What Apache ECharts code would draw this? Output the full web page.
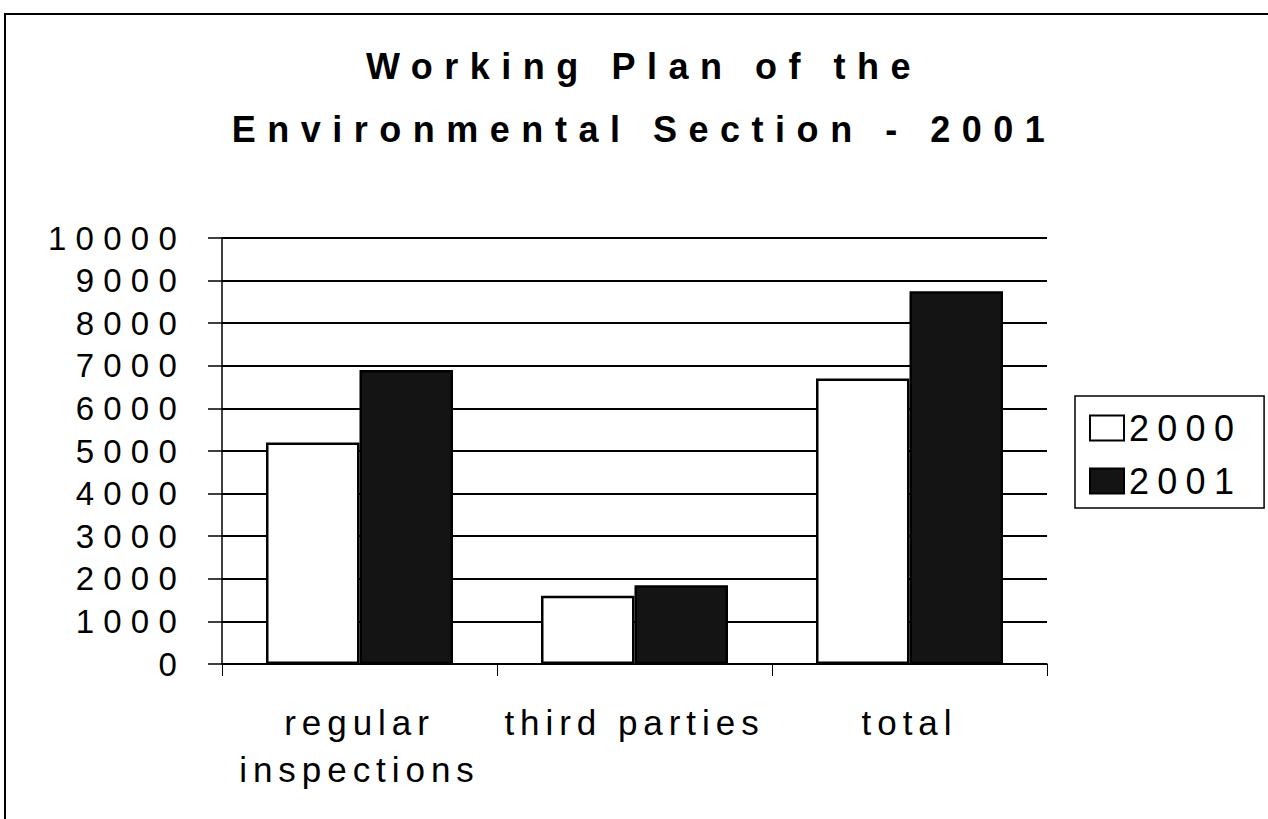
<!DOCTYPE html>
<html lang="en">
<head>
  <meta charset="UTF-8">
  <title>Working Plan of the Environmental Section - 2001</title>
  <script src="https://cdn.jsdelivr.net/npm/echarts@6/dist/echarts.min.js"></script>
  <style>
    html, body { margin: 0; padding: 0; background: #fff; }
    #chart { width: 1268px; height: 819px; }
  </style>
</head>
<body>
  <div id="chart"></div>
  <script>
    // data
    const categories = ['regular\ninspections', 'third parties', 'total'];
    const seriesNames = ['2000', '2001'];
    const values2000 = [5200, 1600, 6700];
    const values2001 = [6900, 1850, 8750];

    const font = '"Liberation Sans", Arial, sans-serif';
    const chart = echarts.init(document.getElementById('chart'), null, { renderer: 'svg' });

    const option = {
      backgroundColor: '#fff',
      animation: false,
      title: {
        text: 'Working Plan of the\nEnvironmental Section - 2001',
        left: 644,
        textAlign: 'center',
        top: 35,
        padding: 0,
        textStyle: {
          fontFamily: font,
          fontWeight: 'bold',
          fontSize: 36,
          lineHeight: 63,
          color: '#000'
        }
      },
      legend: {
        data: seriesNames,
        orient: 'vertical',
        left: 1075,
        top: 396,
        icon: 'rect',
        itemWidth: 34,
        itemHeight: 25,
        itemGap: 17,
        padding: [14, 55, 9, 14],
        borderColor: '#000',
        borderWidth: 1.5,
        textStyle: { fontFamily: font, fontSize: 36, color: '#000' }
      },
      grid: { left: 222, right: 221, top: 238, bottom: 155, outerBoundsMode: 'none' },
      xAxis: {
        type: 'category',
        data: categories,
        axisLine: { lineStyle: { color: '#000', width: 1.5 } },
        axisTick: { show: true, length: 12, lineStyle: { color: '#000', width: 1 } },
        axisLabel: {
          fontFamily: font,
          fontSize: 35,
          color: '#000',
          margin: 35,
          lineHeight: 47
        }
      },
      yAxis: {
        type: 'value',
        min: 0,
        max: 10000,
        interval: 1000,
        axisLine: { show: true, lineStyle: { color: '#000', width: 1.5 } },
        axisTick: { show: true, length: 14, lineStyle: { color: '#000', width: 1.5 } },
        splitLine: { lineStyle: { color: '#000', width: 2 } },
        axisLabel: {
          fontFamily: font,
          fontSize: 33,
          color: '#000',
          margin: 36,
          formatter: function (value) {
            return String(value);
          }
        }
      },
      series: [
        {
          name: '2000',
          type: 'bar',
          data: values2000,
          barGap: '0%',
          barCategoryGap: '32%',
          itemStyle: { color: '#fff', borderColor: '#000', borderWidth: 2.5 }
        },
        {
          name: '2001',
          type: 'bar',
          data: values2001,
          itemStyle: { color: '#141414', borderColor: '#000', borderWidth: 2.5 }
        }
      ],
      graphic: [
        {
          type: 'rect',
          shape: { x: 5, y: 14, width: 1400, height: 900 },
          style: { fill: 'none', stroke: '#000', lineWidth: 2 },
          silent: true
        }
      ]
    };

    chart.setOption(option);

    // the scan has widely spaced letters; canvas text can't do that,
    // so space out the svg text after rendering (em = per text size)
    function spaceLetters() {
      document.querySelectorAll('#chart text').forEach(function (el) {
        const cs = getComputedStyle(el);
        const size = parseFloat(cs.fontSize);
        let sp = 0.17;                       // category labels
        if (cs.fontWeight === '700' || cs.fontWeight === 'bold') sp = 0.32; // title
        else if (size >= 36) sp = 0.23;      // legend
        else if (size <= 33) sp = 0.28;      // y axis labels
        el.style.letterSpacing = sp + 'em';
      });
    }
    spaceLetters();
    chart.on('finished', spaceLetters);
  </script>
</body>
</html>
